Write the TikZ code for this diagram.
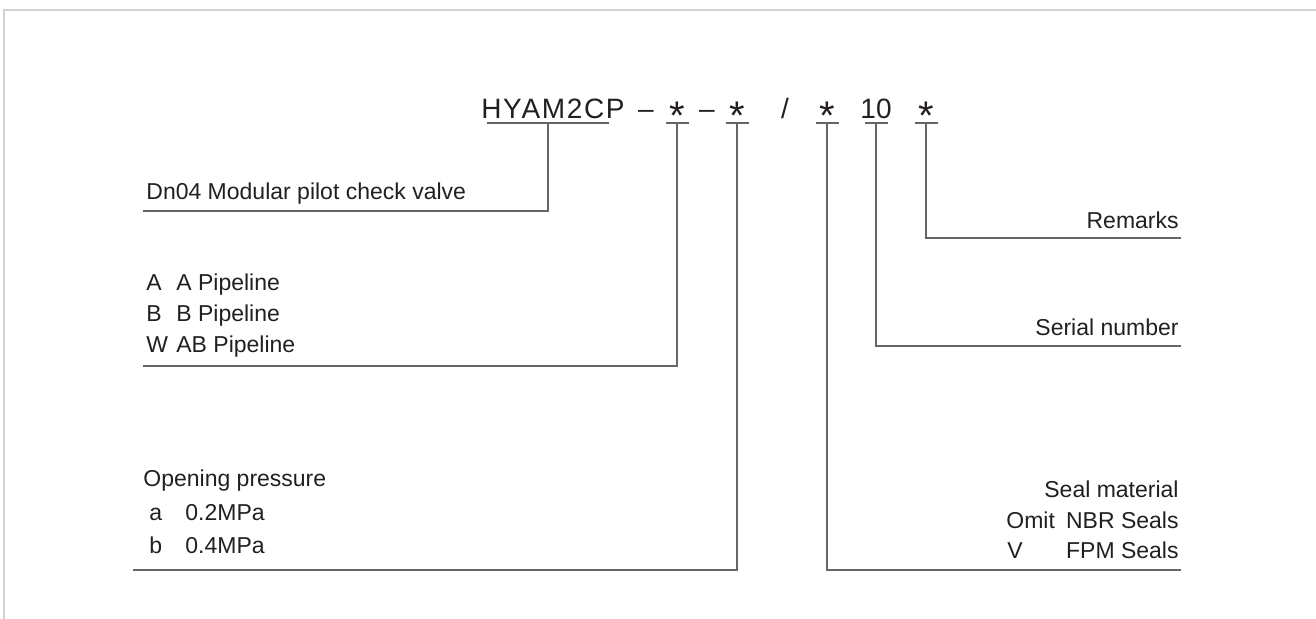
\documentclass[tikz,border=0pt]{standalone}
\usepackage{fontspec}
\setmainfont{Liberation Sans}
\definecolor{ink}{HTML}{231F20}
\definecolor{leadgray}{HTML}{666666}
\definecolor{framegray}{HTML}{D2D2D2}
\tikzset{
  code/.style={font=\fontsize{14}{16}\selectfont, text=ink, inner sep=0pt, anchor=base},
  lbl/.style={font=\fontsize{11.5}{13}\selectfont, text=ink, inner sep=0pt},
  lead/.style={draw=leadgray, line width=0.75pt},
}
\newcommand{\codestar}{\raisebox{-5.5pt}{\fontsize{20}{20}\selectfont *}}

\begin{document}
\begin{tikzpicture}[x=0.5pt,y=-0.5pt]
\useasboundingbox (0,0) rectangle (1316,619);
\draw[framegray, line width=1pt] (3.5,619) -- (3.5,10.5) -- (1316,10.5);

% model code
\node[code] (hy) at (553,119) {\addfontfeature{LetterSpace=6}HYAM2CP};
\node[code] (d1) at (646,119) {--};
\node[code] (s1) at (677,119) {\codestar};
\node[code] (d2) at (707,119) {--};
\node[code] (s2) at (737,119) {\codestar};
\node[code] (sl) at (785,119) {/};
\node[code] (s3) at (827,119) {\codestar};
\node[code] (ten) at (876,119) {10};
\node[code] (s4) at (926,119) {\codestar};

\coordinate (hyu) at ([shift={(-5,4)}]hy.base);
\draw[lead] ([xshift=-30.5pt]hyu) -- ([xshift=30.5pt]hyu);
\foreach \t in {s1,s2,s3,ten,s4}{
  \coordinate (\t u) at ([yshift=-2pt]\t.base);
  \draw[lead] ([xshift=-5.75pt]\t u) -- ([xshift=5.75pt]\t u);
}

% left side
\node[lbl, anchor=base west] (dn) at (146,200) {Dn04 Modular pilot check valve};
\coordinate (dnend) at (143,211);

\node[lbl, anchor=base west] (ka) at (146,291) {A};
\node[lbl, anchor=base west] (pa) at (176,291) {A Pipeline};
\node[lbl, anchor=base west] (kb) at (146,322) {B};
\node[lbl, anchor=base west] (pb) at (176,322) {B Pipeline};
\node[lbl, anchor=base west] (kw) at (146,353) {W};
\node[lbl, anchor=base west] (pw) at (176,353) {AB Pipeline};
\coordinate (pipeend) at (143,366);

\node[lbl, anchor=base west] (op) at (143,487) {Opening pressure};
\node[lbl, anchor=base west] (k1) at (149,521) {a};
\node[lbl, anchor=base west] (p1) at (185,521) {0.2MPa};
\node[lbl, anchor=base west] (k2) at (149,553) {b};
\node[lbl, anchor=base west] (p2) at (185,553) {0.4MPa};
\coordinate (opend) at (133,570);

% right side
\node[lbl, anchor=base east] (rm) at (1179,229) {Remarks};
\coordinate (rmend) at (1181,238);
\node[lbl, anchor=base east] (sn) at (1179,336) {Serial number};
\coordinate (snend) at (1181,346);
\node[lbl, anchor=base east] (sm) at (1179,497) {Seal material};
\node[lbl, anchor=base west] (ko) at (1006,529) {Omit};
\node[lbl, anchor=base east] (nb) at (1179,529) {NBR Seals};
\node[lbl, anchor=base west] (kv) at (1007,558) {V};
\node[lbl, anchor=base east] (fp) at (1179,558) {FPM Seals};
\coordinate (smend) at (1181,570);

% leaders
\draw[lead] (hyu) |- (dnend);
\draw[lead] (s1u) |- (pipeend);
\draw[lead] (s2u) |- (opend);
\draw[lead] (s3u) |- (smend);
\draw[lead] (tenu) |- (snend);
\draw[lead] (s4u) |- (rmend);
\end{tikzpicture}
\end{document}
